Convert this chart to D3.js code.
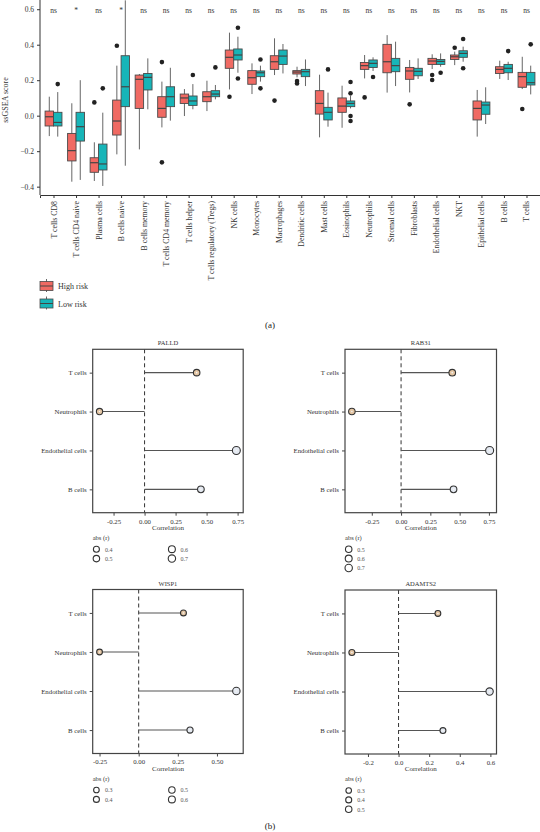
<!DOCTYPE html>
<html>
<head>
<meta charset="utf-8">
<script src="https://cdn.jsdelivr.net/npm/d3@7"></script>
<style>
  body { margin: 0; background: #fff; }
  svg { font-family: "Liberation Serif", "DejaVu Serif", serif; display: block; }
</style>
</head>
<body>
<svg id="fig" width="540" height="832"></svg>
<script>
// ---- datos panel (a): ssGSEA por tipo celular ----
const celulas = ["T cells CD8", "T cells CD4 naive", "Plasma cells", "B cells naive", "B cells memory",
  "T cells CD4 memory", "T cells helper", "T cells regulatory (Tregs)", "NK cells", "Monocytes",
  "Macrophages", "Dendritic cells", "Mast cells", "Eosinophils", "Neutrophils", "Stromal cells",
  "Fibroblasts", "Endothelial cells", "NKT", "Epithelial cells", "B cells", "T cells"];
const significancia = ["ns", "*", "ns", "*", "ns", "ns", "ns", "ns", "ns", "ns", "ns",
  "ns", "ns", "ns", "ns", "ns", "ns", "ns", "ns", "ns", "ns", "ns"];
// [bigote inferior, Q1, mediana, Q3, bigote superior]
const altoRiesgo = [
  [-0.115, -0.058, -0.006, 0.026, 0.107], [-0.372, -0.255, -0.197, -0.1, 0.07],
  [-0.368, -0.319, -0.265, -0.237, -0.15], [-0.218, -0.109, -0.03, 0.088, 0.282],
  [-0.19, 0.041, 0.205, 0.229, 0.235], [-0.066, -0.009, 0.041, 0.107, 0.192],
  [-0.002, 0.069, 0.1, 0.122, 0.15], [0.026, 0.079, 0.107, 0.135, 0.197],
  [0.148, 0.267, 0.329, 0.37, 0.468], [0.122, 0.177, 0.214, 0.254, 0.295],
  [0.229, 0.261, 0.304, 0.338, 0.436], [0.216, 0.235, 0.246, 0.254, 0.276],
  [-0.122, 0.009, 0.069, 0.141, 0.231], [-0.068, 0.019, 0.054, 0.1, 0.169],
  [0.21, 0.261, 0.282, 0.3, 0.342], [0.13, 0.242, 0.304, 0.402, 0.454],
  [0.131, 0.205, 0.252, 0.272, 0.314], [0.263, 0.289, 0.308, 0.323, 0.346],
  [0.285, 0.317, 0.332, 0.342, 0.361], [-0.118, -0.024, 0.041, 0.083, 0.145],
  [0.207, 0.238, 0.261, 0.276, 0.31], [0.15, 0.16, 0.22, 0.244, 0.332]];
const altoAtipicos = [[], [], [0.075], [0.394], [], [0.302, -0.263], [], [], [0.107], [],
  [0.085], [0.195, 0.182], [], [], [0.103], [], [0.064], [0.229, 0.201], [0.383], [], [], [0.038]];
const bajoRiesgo = [
  [-0.118, -0.058, -0.038, 0.019, 0.133], [-0.362, -0.143, -0.062, 0.019, 0.2],
  [-0.396, -0.306, -0.272, -0.16, 0.017], [-0.282, 0.051, 0.163, 0.338, 0.65],
  [0.036, 0.145, 0.216, 0.238, 0.323], [-0.028, 0.051, 0.107, 0.163, 0.27],
  [0.036, 0.058, 0.083, 0.111, 0.178], [0.092, 0.107, 0.122, 0.141, 0.173],
  [0.242, 0.314, 0.342, 0.376, 0.445], [0.192, 0.22, 0.242, 0.252, 0.282],
  [0.238, 0.289, 0.336, 0.37, 0.404], [0.167, 0.22, 0.248, 0.261, 0.317],
  [-0.062, -0.024, 0.019, 0.047, 0.13], [0.041, 0.051, 0.069, 0.083, 0.111],
  [0.252, 0.272, 0.295, 0.314, 0.329], [0.167, 0.248, 0.282, 0.323, 0.417],
  [0.207, 0.225, 0.25, 0.267, 0.323], [0.276, 0.289, 0.306, 0.317, 0.351],
  [0.304, 0.329, 0.351, 0.366, 0.389], [-0.047, 0.008, 0.06, 0.077, 0.16],
  [0.201, 0.242, 0.267, 0.289, 0.304], [0.12, 0.173, 0.186, 0.244, 0.282]];
const bajoAtipicos = [[0.178], [], [0.154], [], [], [], [0.229], [0.272], [0.496, 0.21], [0.317, 0.154],
  [], [], [0.261], [0.19, 0.126, -0.002, -0.03], [0.218], [], [], [0.242], [0.432, 0.267], [], [0.364], [0.402]];
const ticksY = [-0.4, -0.2, 0.0, 0.2, 0.4, 0.6];
const grupos = ["High risk", "Low risk"];

// ---- datos panel (b): correlaciones ----
const celulasCor = ["T cells", "Neutrophils", "Endothelial cells", "B cells"];
const corPALLD = [0.42, -0.363, 0.74, 0.454];
const corRAB31 = [0.437, -0.42, 0.756, 0.448];
const corWISP1 = [0.286, -0.25, 0.624, 0.328];
const corADAMTS2 = [0.257, -0.305, 0.595, 0.29];
const ticksPALLD = [-0.25, 0, 0.25, 0.5, 0.75];
const ticksRAB31 = [-0.25, 0, 0.25, 0.5, 0.75];
const ticksWISP1 = [-0.25, 0, 0.25, 0.5];
const ticksADAMTS2 = [-0.2, 0, 0.2, 0.4, 0.6];
const leyPALLD = [0.4, 0.5, 0.6, 0.7];
const leyRAB31 = [0.5, 0.6, 0.7];
const leyWISP1 = [0.3, 0.4, 0.5, 0.6];
const leyADAMTS2 = [0.3, 0.4, 0.5];

const colores = { "High risk": "#f06a63", "Low risk": "#17b5b8" };
const rellenoPunto = ["#e3c5a3", "#e3c5a3", "#e4e9f1", "#e4e9f1"];
const svg = d3.select("#fig");

// ================= panel (a) =================
const x = d3.scalePoint().domain(celulas).range([40, 540]).padding(0.6);
const y = d3.scaleLinear().domain([-0.447, 0.652]).range([195, 0]);
const paso = x.step();
const anchoCaja = 0.75 * paso / 2;

const gA = svg.append("g");

const dibujarCajas = (stats, atipicos, grupo, desplaz) => {
  const g = gA.append("g");
  stats.forEach((s, i) => {
    const cx = x(celulas[i]) + desplaz;
    g.append("line").attr("x1", cx).attr("x2", cx).attr("y1", y(s[0])).attr("y2", y(s[4]))
      .attr("stroke", "#666").attr("stroke-width", 1);
    g.append("rect").attr("x", cx - anchoCaja / 2).attr("width", anchoCaja)
      .attr("y", y(s[3])).attr("height", y(s[1]) - y(s[3]))
      .attr("fill", colores[grupo]).attr("stroke", "#4a4a4a").attr("stroke-width", 0.9);
    g.append("line").attr("x1", cx - anchoCaja / 2).attr("x2", cx + anchoCaja / 2)
      .attr("y1", y(s[2])).attr("y2", y(s[2])).attr("stroke", "#444").attr("stroke-width", 1.2);
    atipicos[i].forEach(v => {
      g.append("circle").attr("cx", cx).attr("cy", y(v)).attr("r", 2.3).attr("fill", "#222");
    });
  });
};
dibujarCajas(altoRiesgo, altoAtipicos, "High risk", -0.1875 * paso);
dibujarCajas(bajoRiesgo, bajoAtipicos, "Low risk", 0.1875 * paso);

// ejes
const ejeY = d3.axisLeft(y).tickValues(ticksY).tickSize(3).tickFormat(d3.format(".1f"));
const gEjeY = gA.append("g").attr("transform", "translate(40,0)").call(ejeY)
  .call(g => g.select(".domain").attr("d", "M0,0V195"));
const ejeX = d3.axisBottom(x).tickSize(3);
const gEjeX = gA.append("g").attr("transform", "translate(0,195)").call(ejeX)
  .call(g => g.selectAll(".tick text").attr("transform", "rotate(-90)")
    .attr("text-anchor", "end").attr("x", -6).attr("y", 0).attr("dy", "0.32em"));
gA.selectAll(".domain, .tick line").attr("stroke", "#333");
gEjeY.selectAll(".tick text").attr("font-family", "Liberation Serif").attr("font-size", 7.5).attr("fill", "#333")
  .text(d => d3.format(".1f")(d).replace("-", "\u2212"));
gEjeX.selectAll(".tick text").attr("font-family", "Liberation Serif").attr("font-size", 7.8).attr("fill", "#333");

gA.append("text").attr("transform", "translate(8,100) rotate(-90)").attr("text-anchor", "middle")
  .attr("font-size", 8).attr("fill", "#333").text("ssGSEA score");

gA.selectAll("text.sig").data(significancia).enter().append("text").attr("class", "sig")
  .attr("x", (d, i) => x(celulas[i])).attr("y", 13)
  .attr("text-anchor", "middle").attr("font-size", 7.5).attr("fill", "#333").text(d => d);

// leyenda
grupos.forEach((gr, i) => {
  const ly = 280.5 + i * 17.5;
  const lg = gA.append("g").attr("transform", `translate(40,${ly})`);
  lg.append("line").attr("x1", 6.5).attr("x2", 6.5).attr("y1", -1.5).attr("y2", 11.5).attr("stroke", "#666");
  lg.append("rect").attr("x", 0).attr("y", 1).attr("width", 13).attr("height", 9)
    .attr("fill", colores[gr]).attr("stroke", "#4a4a4a").attr("stroke-width", 0.8);
  lg.append("line").attr("x1", 0).attr("x2", 13).attr("y1", 5.5).attr("y2", 5.5).attr("stroke", "#444");
  lg.append("text").attr("x", 18).attr("y", 8.5).attr("font-size", 8).attr("fill", "#333").text(gr);
});
svg.append("text").attr("x", 270).attr("y", 328).attr("text-anchor", "middle")
  .attr("font-size", 9).attr("fill", "#222").text("(a)");

// ================= panel (b) =================
const radio = d3.scaleLinear().domain([0.3, 0.75]).range([3, 4]);

const dibujarPanel = (gen, valores, ticks, formato, ley, dosColumnas, x0, x1, y0, y1) => {
  const g = svg.append("g");
  const mn = Math.min(0, d3.min(valores)), mx = Math.max(0, d3.max(valores));
  const ext = (mx - mn) * 0.05;
  const xs = d3.scaleLinear().domain([mn - ext, mx + ext]).range([x0, x1]);
  const ys = d3.scalePoint().domain(celulasCor).range([y0, y1]).padding(0.6);

  g.append("text").attr("x", (x0 + x1) / 2).attr("y", y0 - 4).attr("text-anchor", "middle")
    .attr("font-size", 6.5).attr("fill", "#333").text(gen);

  g.append("line").attr("x1", xs(0)).attr("x2", xs(0)).attr("y1", y0).attr("y2", y1)
    .attr("stroke", "#333").attr("stroke-width", 1).attr("stroke-dasharray", "4,3");

  valores.forEach((v, i) => {
    const cy = ys(celulasCor[i]);
    g.append("line").attr("x1", xs(0)).attr("x2", xs(v)).attr("y1", cy).attr("y2", cy)
      .attr("stroke", "#555").attr("stroke-width", 1.1);
    g.append("circle").attr("cx", xs(v)).attr("cy", cy).attr("r", radio(Math.abs(v)))
      .attr("fill", rellenoPunto[i]).attr("stroke", "#333").attr("stroke-width", 1.1);
    g.append("circle").attr("cx", xs(v)).attr("cy", cy).attr("r", 0.8).attr("fill", "#f4f4f4");
  });

  g.append("rect").attr("x", x0).attr("y", y0).attr("width", x1 - x0).attr("height", y1 - y0)
    .attr("fill", "none").attr("stroke", "#444").attr("stroke-width", 1.2);

  const ax = g.append("g").attr("transform", `translate(0,${y1})`)
    .call(d3.axisBottom(xs).tickValues(ticks).tickSize(3).tickFormat(d3.format(formato)));
  const ay = g.append("g").attr("transform", `translate(${x0},0)`)
    .call(d3.axisLeft(ys).tickSize(3));
  [ax, ay].forEach(a => {
    a.select(".domain").remove();
    a.selectAll(".tick line").attr("stroke", "#444");
    a.selectAll(".tick text").attr("font-family", "Liberation Serif").attr("font-size", 6.8).attr("fill", "#333");
  });
  ax.selectAll(".tick text").text(d => d3.format(formato)(d).replace("\u2212", "-"));

  g.append("text").attr("x", (x0 + x1) / 2).attr("y", y1 + 17).attr("text-anchor", "middle")
    .attr("font-size", 7).attr("fill", "#333").text("Correlation");

  // leyenda abs(r)
  const ly = y1 + 27;
  g.append("text").attr("x", x0).attr("y", ly).attr("font-size", 6.5).attr("fill", "#333")
    .text("abs (r)");
  ley.forEach((v, i) => {
    const col = dosColumnas ? Math.floor(i / 2) : 0;
    const fila = dosColumnas ? i % 2 : i;
    const cx = x0 + 3.7 + col * 75.5;
    const cy = ly + 9.5 + fila * 9.4;
    g.append("circle").attr("cx", cx).attr("cy", cy).attr("r", radio(v) - 0.2)
      .attr("fill", "none").attr("stroke", "#333").attr("stroke-width", 1.1);
    g.append("text").attr("x", cx + 8.5).attr("y", cy + 2.3).attr("font-size", 6)
      .attr("fill", "#555").text(v.toFixed(1));
  });
};

dibujarPanel("PALLD", corPALLD, ticksPALLD, ".2f", leyPALLD, true, 92.7, 243.2, 349.3, 512.7);
dibujarPanel("RAB31", corRAB31, ticksRAB31, ".2f", leyRAB31, false, 345, 496.5, 349.3, 512.7);
dibujarPanel("WISP1", corWISP1, ticksWISP1, ".2f", leyWISP1, true, 92.7, 243.2, 589.5, 753.5);
dibujarPanel("ADAMTS2", corADAMTS2, ticksADAMTS2, ".1f", leyADAMTS2, false, 345, 496.5, 590, 754);

svg.append("text").attr("x", 270).attr("y", 829).attr("text-anchor", "middle")
  .attr("font-size", 9).attr("fill", "#222").text("(b)");
</script>
</body>
</html>
